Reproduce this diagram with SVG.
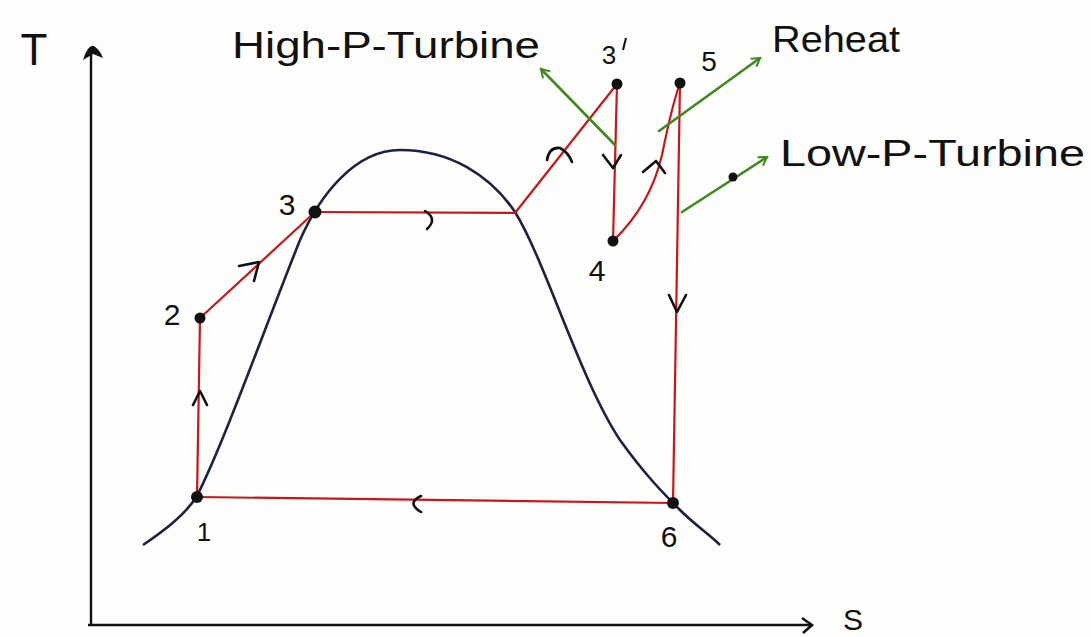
<svg xmlns="http://www.w3.org/2000/svg" width="1091" height="637" viewBox="0 0 1091 637">
<style>
.lbl{font-family:"Liberation Sans","DejaVu Sans",sans-serif;fill:#111;}
.red{fill:none;stroke:#c8161b;stroke-width:2.2;stroke-linecap:round;stroke-linejoin:round}
.chev{fill:none;stroke:#111;stroke-width:2.6;stroke-linecap:round;stroke-linejoin:round}
.grn{fill:none;stroke:#3f8a1f;stroke-width:2.6;stroke-linecap:round;marker-end:url(#gh)}
.dot{fill:#111}
</style>
<defs>
<marker id="gh" viewBox="0 0 12 12" refX="10" refY="6" markerWidth="12" markerHeight="12" markerUnits="userSpaceOnUse" orient="auto">
<path d="M2,1 L10,6 L2,11" fill="none" stroke="#3f8a1f" stroke-width="2"/>
</marker>
</defs>
<rect width="1091" height="637" fill="#fdfdfb"/>
<g id="axes">
<path d="M91,625 L91,52" stroke="#111" stroke-width="2.4" fill="none"/>
<path d="M83,60 Q88,44 94,46 Q100,50 103,58 L93,54 Z" fill="#111"/>
<path d="M88,625 L810,625" stroke="#111" stroke-width="2.4" fill="none"/>
<path d="M802,618 L812,625 L803,633" stroke="#111" stroke-width="2.6" fill="none"/>
<text class="lbl" x="34" y="65" font-size="44" text-anchor="middle">T</text>
<text class="lbl" x="853" y="630" font-size="30" text-anchor="middle">S</text>
</g>
<g id="dome">
<path d="M143,545 C165,530 185,515 197,496 C225,440 262,335 300,240 C320,195 355,150 400,150 C450,150 490,175 515,212 C545,260 580,380 620,440 C645,475 665,495 680,510 C695,525 710,535 720,545" fill="none" stroke="#1c2240" stroke-width="2.6"/>
</g>
<g id="connectors">
<path class="red" d="M197,497 L200,318"/>
<path class="red" d="M200,318 L315,212"/>
<path class="red" d="M315,212 L515,213"/>
<path class="red" d="M515,213 L617,84"/>
<path class="red" d="M617,84 L613,241"/>
<path class="red" d="M613,241 C640,215 655,185 662,155 C668,125 674,100 680,83"/>
<path class="red" d="M680,83 L673,503"/>
<path class="red" d="M673,503 L197,497"/>
<path class="chev" d="M193,405 L200,391 L207,405"/>
<path class="chev" d="M239,266 L259,262 L254,281"/>
<path class="chev" d="M425,211 Q438,219 427,229"/>
<path class="chev" d="M547,160 Q549,147 560,148 Q568,152 572,162"/>
<path class="chev" d="M603,155 L613,168 L621,155"/>
<path class="chev" d="M643,172 L656,161 L665,173"/>
<path class="chev" d="M669,295 L677,312 L686,295"/>
<path class="chev" d="M421,496 Q406,503 421,512"/>
<path class="grn" d="M615,145 L541,69"/>
<path class="grn" d="M659,131 L760,58"/>
<path class="grn" d="M682,212 L767,157"/>
<circle cx="733" cy="177" r="4.5" fill="#111"/>
</g>
<g id="p1"><circle class="dot" cx="197" cy="497" r="6"/><text class="lbl" x="204" y="541" font-size="26" text-anchor="middle">1</text></g>
<g id="p2"><circle class="dot" cx="200" cy="318" r="5.5"/><text class="lbl" x="172" y="325" font-size="30" text-anchor="middle">2</text></g>
<g id="p3"><circle class="dot" cx="315" cy="212" r="6.5"/><text class="lbl" x="287" y="215" font-size="30" text-anchor="middle">3</text></g>
<g id="p3prime"><circle class="dot" cx="617" cy="84" r="5.5"/><text class="lbl" x="609" y="64" font-size="26" text-anchor="middle">3</text><path d="M626,38 L623,50" stroke="#111" stroke-width="2" fill="none"/></g>
<g id="p4"><circle class="dot" cx="613" cy="241" r="5.5"/><text class="lbl" x="597" y="281" font-size="30" text-anchor="middle">4</text></g>
<g id="p5"><circle class="dot" cx="680" cy="83" r="5.5"/><text class="lbl" x="709" y="71" font-size="28" text-anchor="middle">5</text></g>
<g id="p6"><circle class="dot" cx="673" cy="503" r="6"/><text class="lbl" x="669" y="547" font-size="30" text-anchor="middle">6</text></g>
<g id="labels">
<text class="lbl" x="232" y="58" font-size="36" textLength="308" lengthAdjust="spacingAndGlyphs">High-P-Turbine</text>
<text class="lbl" x="772" y="52" font-size="36" textLength="128" lengthAdjust="spacingAndGlyphs">Reheat</text>
<text class="lbl" x="780" y="166" font-size="36" textLength="305" lengthAdjust="spacingAndGlyphs">Low-P-Turbine</text>
</g>
</svg>
